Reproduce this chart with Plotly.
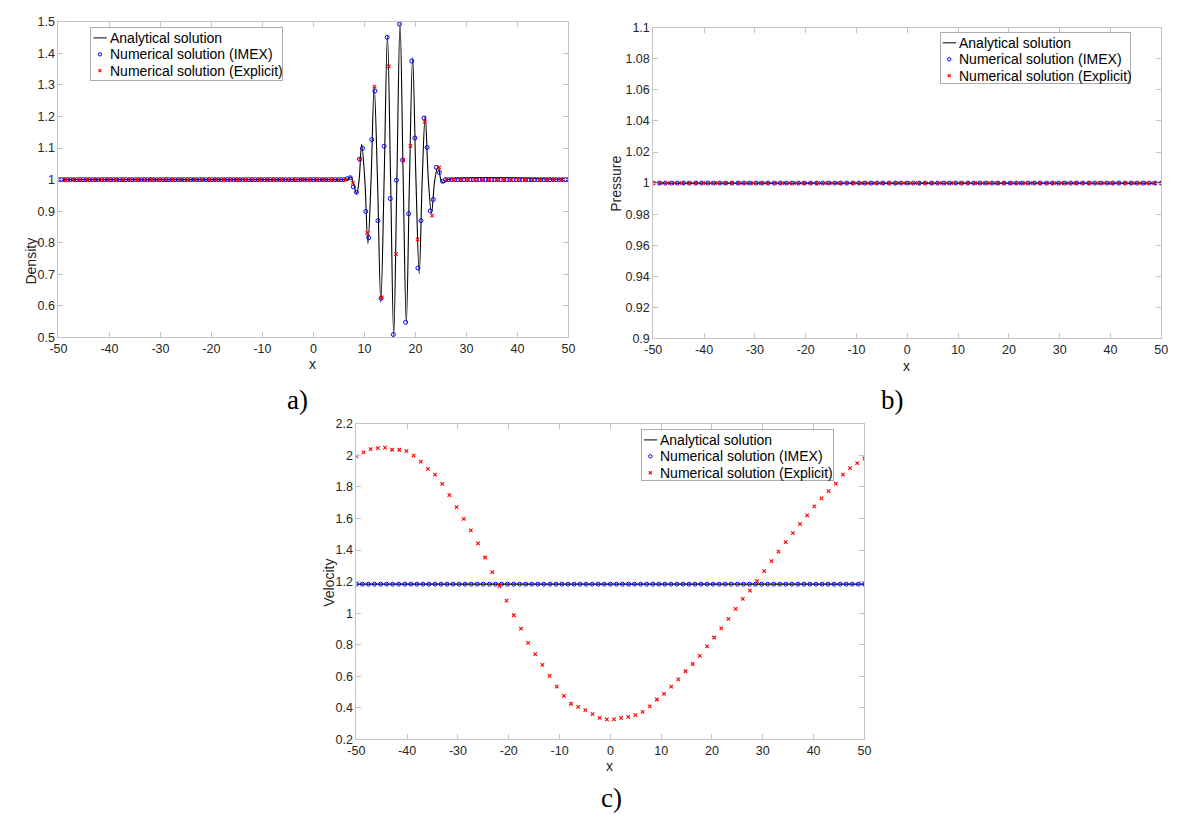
import numpy as np
import plotly.graph_objects as go

W, H = 1184, 819

# ---------------- data ----------------
# a) Density
x_an_rho = [-50, 6.0, 6.7, 7.37, 7.9, 8.47, 8.96, 9.45, 10.07, 10.68, 11.3, 11.91, 12.56, 13.21,
            13.86, 14.51, 15.13, 15.74, 16.36, 16.98, 17.6, 18.21, 18.83, 19.45, 20.1, 20.74,
            21.33, 21.91, 22.53, 23.15, 23.8, 24.45, 25.0, 25.55, 26.3, 50]
rho_an = [1, 1, 1.0, 1.008, 0.985, 0.956, 1.0, 1.112, 1.0, 0.797, 1.0, 1.295, 1.0, 0.61,
          1.0, 1.457, 1.0, 0.504, 1.0, 1.496, 1.0, 0.546, 1.0, 1.387, 1.0, 0.702,
          1.0, 1.202, 1.0, 0.893, 1.0, 1.044, 1.0, 0.99, 1.0, 1.0]

x_imex_rho = np.linspace(-50, 50, 167)
rho_imex = ([1.0] * 93 +
            [1.0, 1.003, 1.006, 0.977, 0.960, 1.065, 1.099, 0.899, 0.816, 1.127, 1.281, 0.870,
             0.624, 1.106, 1.451, 0.940, 0.509, 0.998, 1.493, 1.062, 0.548, 0.892, 1.376, 1.132,
             0.720, 0.870, 1.195, 1.102, 0.901, 0.937, 1.039, 1.023, 0.995, 1.0] +
            [1.0] * 40)

x_exp = np.linspace(-50, 50, 72)
rho_exp = ([1.0] * 40 +
           [1.0, 0.99, 1.065, 0.831, 1.295, 0.627, 1.359, 0.764, 1.062, 1.107, 0.811, 1.184,
            0.886, 1.039, 1.0] +
           [1.0] * 17)

# b) Pressure
x_an_p = [-50, 50]
p_an = [1.0, 1.0]
x_imex = np.linspace(-50, 50, 85)
p_imex = [1.0] * 85
p_exp = [1.0] * 72

# c) Velocity
x_an_u = [-50, 50]
u_an = [1.184, 1.184]
u_imex = [1.184] * 85
u_exp = [1.994, 2.019, 2.040, 2.046, 2.050, 2.036, 2.036, 2.027, 1.999, 1.961, 1.915, 1.878,
         1.820, 1.749, 1.672, 1.598, 1.525, 1.442, 1.353, 1.261, 1.172, 1.080,
         0.987, 0.902, 0.812, 0.740, 0.672, 0.603, 0.535, 0.476, 0.426, 0.406, 0.385, 0.360,
         0.337, 0.327, 0.327, 0.337, 0.343, 0.354, 0.374, 0.410, 0.453, 0.488, 0.535, 0.580,
         0.632, 0.678, 0.730, 0.790, 0.846, 0.904, 0.964, 1.027, 1.091, 1.143, 1.203, 1.267,
         1.33, 1.39, 1.45,
         1.507, 1.564, 1.620, 1.677, 1.728, 1.774, 1.822, 1.878, 1.920, 1.951, 1.982]

x_ticks = [-50, -40, -30, -20, -10, 0, 10, 20, 30, 40, 50]
x_ticktext = ["-50", "-40", "-30", "-20", "-10", "0", "10", "20", "30", "40", "50"]

names = ["Analytical solution", "Numerical solution (IMEX)", "Numerical solution (Explicit)"]

BLUE = "#0000FF"
RED = "#FF0000"

# ---------------- figure ----------------
fig = go.Figure()

def add_panel(xa, ya, x_an, y_an, x_im, y_im, x_ex, y_ex, spline=False):
    fig.add_trace(go.Scatter(x=x_an, y=y_an, mode="lines", name=names[0],
                             line=dict(color="black", width=1.1, shape="spline" if spline else "linear",
                                       smoothing=1.0),
                             xaxis=xa, yaxis=ya, showlegend=False))
    fig.add_trace(go.Scatter(x=x_im, y=y_im, mode="markers", name=names[1],
                             marker=dict(symbol="circle-open", size=4, color=BLUE,
                                         line=dict(width=1, color=BLUE)),
                             xaxis=xa, yaxis=ya, showlegend=False))
    fig.add_trace(go.Scatter(x=x_ex, y=y_ex, mode="markers", name=names[2],
                             marker=dict(symbol="x-thin", size=3.5, color=RED,
                                         line=dict(width=1.1, color=RED)),
                             xaxis=xa, yaxis=ya, showlegend=False))

add_panel("x", "y", x_an_rho, rho_an, x_imex_rho, rho_imex, x_exp, rho_exp, spline=True)
add_panel("x2", "y2", x_an_p, p_an, x_imex, p_imex, x_exp, p_exp)
add_panel("x3", "y3", x_an_u, u_an, x_imex, u_imex, x_exp, u_exp)

axcol = "#C4C4C4"
tickfont = dict(family="Liberation Sans", size=12.5, color="#262626")
common = dict(showline=True, linecolor=axcol, linewidth=1, mirror="ticks", ticks="inside",
              ticklen=5, tickcolor=axcol, tickwidth=1, showgrid=False, zeroline=False,
              tickfont=tickfont)

def dom_x(l, r):
    return [l / W, r / W]

def dom_y(t, b):
    return [1 - b / H, 1 - t / H]

fig.update_layout(
    width=W, height=H, margin=dict(l=0, r=0, t=0, b=0),
    paper_bgcolor="white", plot_bgcolor="white", showlegend=False,
    xaxis=dict(domain=dom_x(42, 559), range=[-50, 50], tickvals=x_ticks, ticktext=x_ticktext,
               anchor="y", **common),
    yaxis=dict(domain=dom_y(7, 328), range=[0.5, 1.5], dtick=0.1, tick0=0.5, anchor="x", **common),
    xaxis2=dict(domain=dom_x(645, 1160), range=[-50, 50], tickvals=x_ticks, ticktext=x_ticktext,
                anchor="y2", **common),
    yaxis2=dict(domain=dom_y(13, 329), range=[0.9, 1.1], dtick=0.02, tick0=0.9, anchor="x2", **common),
    xaxis3=dict(domain=dom_x(344, 859), range=[-50, 50], tickvals=x_ticks, ticktext=x_ticktext,
                anchor="y3", **common),
    yaxis3=dict(domain=dom_y(416, 737), range=[0.2, 2.2], dtick=0.2, tick0=0.2, anchor="x3", **common),
)

# ---------------- legends (MATLAB style boxes) ----------------
legfont = dict(family="Liberation Sans", size=14, color="black")

def px(x):
    return x / W

def py(y):
    return 1 - y / H

def draw_legend(left, top, right, bottom):
    # frame: an empty annotation with a border
    fig.add_annotation(text=" ", x=px((left + right) / 2), y=py((top + bottom) / 2),
                       xref="paper", yref="paper", showarrow=False,
                       width=right - left - 1, height=bottom - top - 1, borderpad=0,
                       bordercolor="#ABABAB", borderwidth=1, bgcolor="rgba(255,255,255,0)",
                       xanchor="center", yanchor="middle", font=dict(size=4))
    rows = [top + 10.3, top + 27.0, top + 43.7]
    sx = left + 8
    fig.add_shape(type="line", xref="paper", yref="paper", x0=px(left + 1.5), x1=px(left + 15),
                  y0=py(rows[0]), y1=py(rows[0]), line=dict(color="black", width=1), layer="above")
    fig.add_shape(type="circle", xref="paper", yref="paper", xsizemode="pixel", ysizemode="pixel",
                  xanchor=px(sx), yanchor=py(rows[1]), x0=-1.7, x1=1.7, y0=-1.7, y1=1.7,
                  line=dict(color=BLUE, width=1), layer="above")
    for s in (1, -1):
        fig.add_shape(type="line", xref="paper", yref="paper", xsizemode="pixel", ysizemode="pixel",
                      xanchor=px(sx), yanchor=py(rows[2]), x0=-1.5, x1=1.5, y0=-1.5 * s, y1=1.5 * s,
                      line=dict(color=RED, width=1.1), layer="above")
    for r, t in zip(rows, names):
        fig.add_annotation(text=t, x=px(left + 16), y=py(r), xref="paper", yref="paper",
                           showarrow=False, font=legfont, xanchor="left", yanchor="middle")

draw_legend(76, 13, 268, 66)
draw_legend(937, 18, 1127, 69)
draw_legend(634, 422, 826, 473)

# ---------------- labels ----------------
labfont = dict(family="Liberation Sans", size=14, color="#262626")
serif = dict(family="Liberation Serif", size=27, color="black")

def ann(text, x, y, font, angle=0):
    fig.add_annotation(text=text, x=px(x), y=py(y), xref="paper", yref="paper",
                       showarrow=False, font=font, textangle=angle,
                       xanchor="center", yanchor="middle")

ann("x", 300, 355, labfont)
ann("x", 902, 357, labfont)
ann("x", 601, 764, labfont)
ann("Density", 14, 250, labfont, -90)
ann("Pressure", 607, 172, labfont, -90)
ann("Velocity", 316, 578, labfont, -90)
ann("a)", 284, 392, serif)
ann("b)", 887, 392, serif)
ann("c)", 603, 797, serif)

fig.write_html("out.html")
